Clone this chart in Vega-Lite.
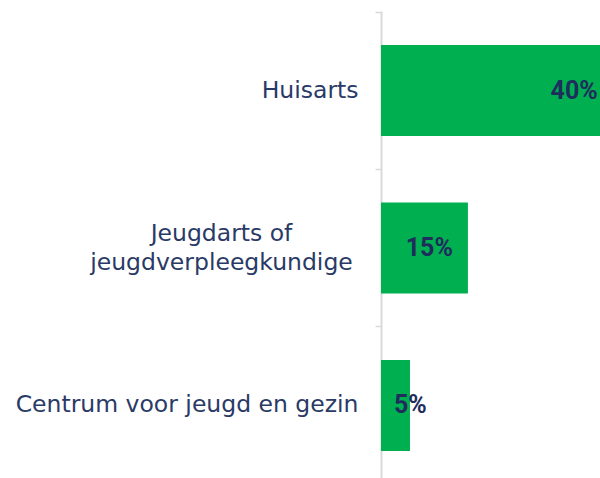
{
  "$schema": "https://vega.github.io/schema/vega-lite/v6.json",
  "autosize": "none",
  "width": 219,
  "height": 467,
  "padding": {"left": 381, "top": 11, "right": 0, "bottom": 0},
  "background": "white",
  "config": {"view": {"stroke": null}},
  "data": {
    "values": [
      {"categorie": "Huisarts", "aandeel": 0.40},
      {"categorie": "Jeugdarts of jeugdverpleegkundige", "aandeel": 0.15},
      {"categorie": "Centrum voor jeugd en gezin", "aandeel": 0.05}
    ]
  },
  "resolve": {"axis": {"y": "independent"}},
  "layer": [
    {
      "mark": {"type": "bar", "color": "#00AF50", "clip": true},
      "encoding": {
        "y": {
          "field": "categorie", "type": "nominal", "sort": null,
          "scale": {"paddingInner": 0.422, "paddingOuter": 0.194, "align": 0.557},
          "axis": {
            "orient": "left",
            "title": null, "domain": false, "ticks": false, "grid": false,
            "labelFont": "DejaVu Sans", "labelFontSize": 23.5, "labelColor": "#2A3A66",
            "labelLimit": 0, "labelLineHeight": 29, "labelBaseline": "middle",
            "labelExpr": "datum.value == 'Jeugdarts of jeugdverpleegkundige' ? ['Jeugdarts of', 'jeugdverpleegkundige'] : datum.label",
            "labelAlign": {"condition": {"test": "datum.value == 'Jeugdarts of jeugdverpleegkundige'", "value": "center"}, "value": "right"},
            "labelPadding": {"condition": {"test": "datum.value == 'Jeugdarts of jeugdverpleegkundige'", "value": 160}, "value": 23},
            "labelOffset": {"condition": {"test": "datum.value == 'Jeugdarts of jeugdverpleegkundige'", "value": -14}, "value": 0}
          }
        },
        "x": {
          "field": "aandeel", "type": "quantitative",
          "scale": {"domain": [0, 0.378], "nice": false, "zero": true},
          "axis": null
        }
      }
    },
    {
      "transform": [{"filter": "datum.aandeel >= 0.1"}],
      "mark": {"type": "text", "align": "right", "baseline": "middle", "dx": -15, "font": "Roboto", "fontSize": 25, "fontWeight": "bold", "color": "#1F2D5C", "clip": true},
      "encoding": {
        "y": {
          "field": "categorie", "type": "nominal", "sort": null,
          "axis": {
            "orient": "left",
            "title": null, "labels": false, "grid": false,
            "domain": true, "domainColor": "#D9D9D9", "domainWidth": 2,
            "ticks": true, "tickColor": "#D9D9D9", "tickSize": 6, "tickWidth": 1.5, "tickOffset": -79
          }
        },
        "x": {"field": "aandeel", "type": "quantitative"},
        "text": {"field": "aandeel", "type": "quantitative", "format": ".0%"}
      }
    },
    {
      "transform": [{"filter": "datum.aandeel < 0.1"}],
      "mark": {"type": "text", "align": "left", "baseline": "middle", "dx": 13, "font": "Roboto", "fontSize": 25, "fontWeight": "bold", "color": "#1F2D5C"},
      "encoding": {
        "y": {"field": "categorie", "type": "nominal", "sort": null, "axis": null},
        "x": {"datum": 0, "type": "quantitative"},
        "text": {"field": "aandeel", "type": "quantitative", "format": ".0%"}
      }
    }
  ]
}
